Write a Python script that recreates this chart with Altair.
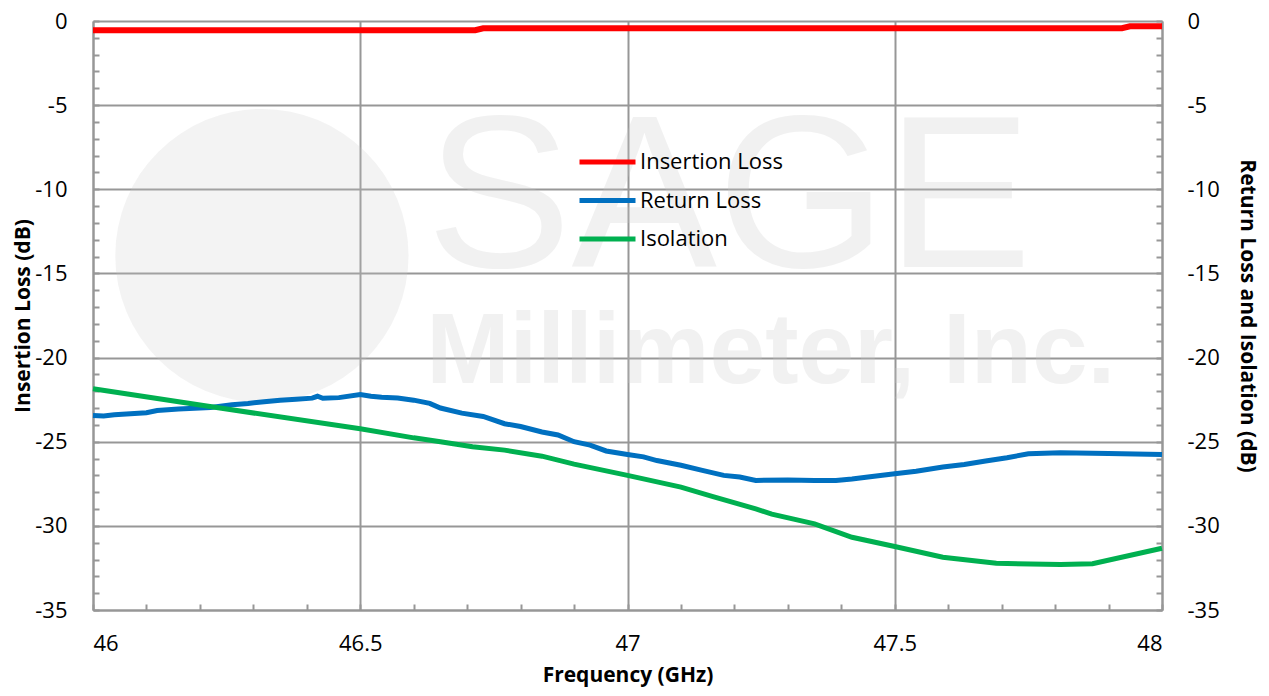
import altair as alt
import pandas as pd

# ---------------- data ----------------
series_names = ["Insertion Loss", "Return Loss", "Isolation"]
series_colors = ["#FF0000", "#0070C0", "#00B050"]

il_freq = [46.0, 46.715, 46.73, 47.925, 47.94, 48.0]
il_db = [-0.55, -0.55, -0.43, -0.43, -0.31, -0.31]

rl_freq = [46.0, 46.02, 46.04, 46.07, 46.1, 46.12, 46.16, 46.22, 46.26, 46.29, 46.32,
           46.35, 46.38, 46.41, 46.42, 46.43, 46.46, 46.5, 46.52, 46.54, 46.57, 46.6,
           46.63, 46.65, 46.69, 46.73, 46.77, 46.8, 46.84, 46.87, 46.9, 46.93, 46.96,
           47.0, 47.03, 47.055, 47.1, 47.14, 47.18, 47.21, 47.24, 47.3, 47.35, 47.39,
           47.42, 47.45, 47.5, 47.54, 47.59, 47.63, 47.67, 47.71, 47.75, 47.78, 47.81,
           47.9, 48.0]
rl_db = [-23.44, -23.47, -23.4, -23.34, -23.28, -23.15, -23.05, -22.96, -22.8, -22.73, -22.62,
         -22.53, -22.48, -22.41, -22.3, -22.42, -22.38, -22.2, -22.3, -22.36, -22.4, -22.53,
         -22.72, -23.0, -23.3, -23.5, -23.93, -24.1, -24.42, -24.6, -25.0, -25.2, -25.55,
         -25.76, -25.9, -26.12, -26.4, -26.7, -27.0, -27.1, -27.3, -27.28, -27.3, -27.3,
         -27.22, -27.1, -26.91, -26.75, -26.5, -26.35, -26.15, -25.95, -25.72, -25.68, -25.66,
         -25.7, -25.76]

iso_freq = [46.0, 46.225, 46.5, 46.6, 46.65, 46.71, 46.77, 46.84, 46.9, 47.0, 47.1,
            47.16, 47.24, 47.27, 47.35, 47.42, 47.5, 47.59, 47.69, 47.81, 47.87, 48.0]
iso_db = [-21.85, -22.94, -24.23, -24.77, -25.0, -25.3, -25.5, -25.86, -26.33, -27.0, -27.7,
          -28.26, -28.99, -29.3, -29.88, -30.68, -31.23, -31.86, -32.22, -32.3, -32.25, -31.33]

x_major = [46, 46.5, 47, 47.5, 48]
x_minor = [46.0, 46.1, 46.2, 46.3, 46.4, 46.5, 46.6, 46.7, 46.8, 46.9, 47.0,
           47.1, 47.2, 47.3, 47.4, 47.5, 47.6, 47.7, 47.8, 47.9, 48.0]
y_major = [0, -5, -10, -15, -20, -25, -30, -35]
y_minor = [0, -1, -2, -3, -4, -5, -6, -7, -8, -9, -10, -11, -12, -13, -14, -15, -16, -17,
           -18, -19, -20, -21, -22, -23, -24, -25, -26, -27, -28, -29, -30, -31, -32, -33,
           -34, -35]

wm_text = ["SAGE", "Millimeter, Inc."]
wm_freq = [47.19, 47.268]
wm_db = [-14.6, -21.5]

# ---------------- frames ----------------
df_il = pd.DataFrame({"freq": il_freq, "db": il_db, "series": "Insertion Loss"})
df_rl = pd.concat([
    pd.DataFrame({"freq": rl_freq, "db": rl_db, "series": "Return Loss"}),
    pd.DataFrame({"freq": iso_freq, "db": iso_db, "series": "Isolation"}),
])
df_wm = pd.DataFrame({"text": wm_text, "freq": wm_freq, "db": wm_db})
df_logo = pd.DataFrame({"freq": [46.316], "db": [-13.94]})

W, H = 1069, 589
FONT = "Open Sans"
GRID = "#979797"
WM = "#c8c8c8"

xs = alt.Scale(domain=[46, 48], nice=False, zero=False)


def ys():
    return alt.Scale(domain=[-35, 0], nice=False, zero=False)


legend = alt.Legend(
    title=None, orient="none", legendX=484, legendY=122, padding=0,
    labelFont=FONT, labelFontSize=22, labelColor="#000000", labelOffset=2,
    symbolType="stroke", symbolStrokeWidth=5, symbolSize=3136,
    clipHeight=38, rowPadding=0.5,
)
color = alt.Color("series:N", scale=alt.Scale(domain=series_names, range=series_colors),
                  legend=legend)

no_x = alt.X("freq:Q", scale=xs, axis=None)

# watermark
logo = alt.Chart(df_logo).mark_point(filled=True, shape="circle", size=86000,
                                     color=WM, opacity=0.22).encode(
    x=no_x, y=alt.Y("db:Q", scale=ys(), axis=None))
wm1 = alt.Chart(df_wm.iloc[[0]]).mark_text(font="Liberation Sans", fontSize=218,
                                          color=WM, opacity=0.25, baseline="alphabetic",
                                          align="center").encode(
    x=no_x, y=alt.Y("db:Q", scale=ys(), axis=None), text="text:N")
wm2 = alt.Chart(df_wm.iloc[[1]]).mark_text(font="Liberation Sans", fontWeight="bold",
                                          fontSize=100, color=WM, opacity=0.25,
                                          baseline="alphabetic", align="center").encode(
    x=no_x, y=alt.Y("db:Q", scale=ys(), axis=None), text="text:N")

# insertion loss, left axis
il_layer = alt.Chart(df_il).mark_line(strokeWidth=6).encode(
    x=alt.X("freq:Q", scale=xs, axis=alt.Axis(
        orient="bottom", values=x_major, grid=True, title="Frequency (GHz)",
        labelExpr="datum.value + ''", tickSize=0, labelPadding=23, titlePadding=10)),
    y=alt.Y("db:Q", scale=ys(), axis=alt.Axis(
        orient="left", values=y_major, grid=True, title="Insertion Loss (dB)",
        labelExpr="datum.value + ''", tickSize=0, labelPadding=26, titlePadding=1)),
    color=color,
    order=alt.Order("freq:Q"),
)

# return loss + isolation, right axis
rl_layer = alt.Chart(df_rl).mark_line(strokeWidth=5).encode(
    x=no_x,
    y=alt.Y("db:Q", scale=ys(), axis=alt.Axis(
        orient="right", values=y_major, grid=False, title="Return Loss and Isolation (dB)",
        labelExpr="datum.value + ''", tickSize=0, labelPadding=25, titlePadding=17)),
    color=color,
    order=alt.Order("freq:Q"),
)

# inward minor ticks
minor_a = alt.Chart(df_il).mark_point(opacity=0).encode(
    x=alt.X("freq:Q", scale=xs, axis=alt.Axis(
        orient="top", offset=-H, values=x_minor, labels=False, grid=False, domain=False,
        tickSize=6, tickWidth=2, tickColor=GRID, title=None)),
    y=alt.Y("db:Q", scale=ys(), axis=alt.Axis(
        orient="right", offset=-W, values=y_minor, labels=False, grid=False, domain=False,
        tickSize=6, tickWidth=2, tickColor=GRID, title=None)),
)
minor_b = alt.Chart(df_il).mark_point(opacity=0).encode(
    x=no_x,
    y=alt.Y("db:Q", scale=ys(), axis=alt.Axis(
        orient="left", offset=-W, values=y_minor, labels=False, grid=False, domain=False,
        tickSize=6, tickWidth=2, tickColor=GRID, title=None)),
)

chart = alt.layer(
    logo, wm1, wm2, il_layer, rl_layer, minor_a, minor_b
).resolve_scale(
    y="independent"
).resolve_axis(
    x="independent", y="independent"
).properties(
    width=W, height=H,
    autosize=alt.AutoSizeParams(type="none"),
    padding={"left": 85, "top": 13, "right": 99, "bottom": 78},
).configure_view(
    stroke=None
).configure_axis(
    labelFont=FONT, labelFontSize=22, labelColor="#000000",
    titleFont=FONT, titleFontSize=21, titleFontWeight="bold", titleColor="#000000",
    domainColor=GRID, domainWidth=2, gridColor=GRID, gridWidth=2,
)

chart.save("out.html", embed_options={"renderer": "svg", "actions": False})
